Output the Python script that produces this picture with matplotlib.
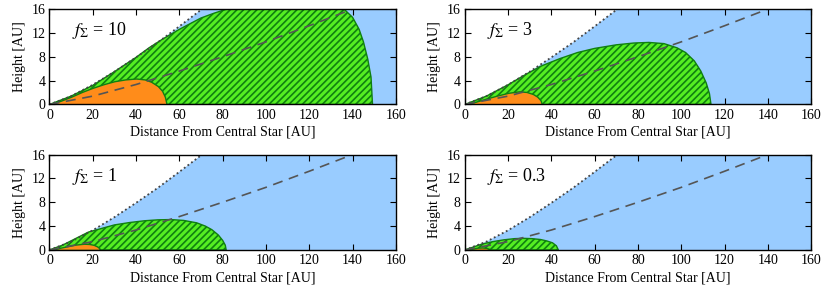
import numpy as np
import matplotlib
matplotlib.use("Agg")
import matplotlib.pyplot as plt

plt.rcParams['font.family'] = ['Liberation Serif', 'DejaVu Serif']
plt.rcParams['mathtext.fontset'] = 'stix'
plt.rcParams['hatch.linewidth'] = 1.2

# upper envelope (dotted) and scale height (dashed), same in every panel
dot_r = [0, 10, 20, 30, 40, 50, 60, 70.5]
dot_h = [0, 1.4, 3.3, 5.5, 7.9, 10.4, 13.1, 16.0]
dash_r = [0, 20, 40, 60, 80, 100, 120, 140]
dash_h = [0, 1.4, 3.35, 5.6, 8.0, 10.5, 13.2, 16.0]

labels = ['10', '3', '1', '0.3']

# green (hatched) regions
green_r = [
    [0, 10, 20, 30, 40, 46, 52, 60, 70, 76, 82, 136, 140, 143, 145, 147, 148.5, 149.2],
    [0, 10, 20, 27, 35, 44, 52, 60, 70, 78, 85, 92, 98, 102, 106, 109, 111.5, 113, 113.7],
    [0, 6, 12, 18, 24, 30, 37, 44, 50, 56, 62, 68, 72, 75, 78, 80, 81.2, 81.6],
    [0, 4, 8, 13, 18, 23, 27, 31, 35, 38, 40.5, 42.3, 43.2],
]
green_h = [
    [0, 1.4, 3.2, 5.5, 7.9, 9.5, 10.9, 12.6, 14.5, 15.3, 16.0, 16.0, 14.6, 12.6, 10.5, 7.6, 4.6, 0],
    [0, 1.4, 3.3, 4.8, 6.4, 7.7, 8.7, 9.4, 10.0, 10.3, 10.4, 10.2, 9.5, 8.7, 7.3, 5.6, 3.6, 1.8, 0],
    [0, 0.8, 1.9, 3.0, 3.6, 4.2, 4.6, 4.9, 5.05, 5.1, 4.95, 4.55, 4.0, 3.4, 2.5, 1.6, 0.8, 0],
    [0, 0.5, 1.0, 1.4, 1.7, 1.9, 1.95, 1.9, 1.75, 1.5, 1.2, 0.7, 0],
]

# orange regions
orange_r = [
    [0, 5, 10, 15, 20, 25, 30, 35, 40, 44, 47, 50, 52, 53.3, 54.1],
    [0, 5, 10, 15, 20, 25, 28.5, 31.5, 33.5, 35, 35.6],
    [0, 4, 8, 12, 16, 18.5, 20.5, 22, 23, 23.4],
    [0, 3, 6, 8, 10, 11, 11.8],
]
orange_h = [
    [0, 0.6, 1.3, 2.1, 2.8, 3.4, 3.9, 4.2, 4.35, 4.2, 3.8, 3.1, 2.3, 1.3, 0],
    [0, 0.45, 1.0, 1.5, 1.95, 2.2, 2.1, 1.75, 1.3, 0.7, 0],
    [0, 0.3, 0.6, 0.9, 1.05, 1.0, 0.85, 0.6, 0.3, 0],
    [0, 0.22, 0.38, 0.42, 0.35, 0.22, 0],
]

blue = '#99CCFF'
green = '#55EE22'
dkgreen = '#108010'
orange = '#FF8C1A'

fig = plt.figure(figsize=(8.3, 2.91), dpi=100)
lefts = [0.0596, 0.560, 0.0596, 0.560]
bottoms = [0.641, 0.641, 0.141, 0.141]

for i in range(4):
    ax = fig.add_axes([lefts[i], bottoms[i], 0.4174, 0.328])
    ax.fill(np.r_[dot_r, 160, 160], np.r_[dot_h, 16, 0], color=blue, lw=0, zorder=1)
    ax.fill_between(green_r[i], 0, green_h[i], facecolor=green, edgecolor=dkgreen,
                    hatch='/////', lw=1.0, zorder=2)
    ax.fill_between(orange_r[i], 0, orange_h[i], facecolor=orange, edgecolor=dkgreen,
                    lw=1.0, zorder=3)
    ax.plot(dot_r, dot_h, color='#444444', ls=(0, (1.0, 1.5)), lw=1.3, zorder=4)
    ax.plot(dash_r, dash_h, color='#555555', ls=(0, (6, 4)), lw=1.2, zorder=4)
    ax.set_xlim(0, 160)
    ax.set_ylim(0, 16)
    ax.set_xticks(np.arange(0, 161, 20))
    ax.set_yticks(np.arange(0, 17, 4))
    ax.tick_params(direction='in', top=True, right=True, length=4, labelsize=10, pad=3)
    for s in ax.spines.values():
        s.set_linewidth(1.0)
        s.set_zorder(5)
    ax.set_xlabel('Distance From Central Star [AU]', fontsize=10, labelpad=3)
    ax.set_ylabel('Height [AU]', fontsize=10, labelpad=4)
    ax.text(0.065, 0.77, r'$f_\Sigma$ = ' + labels[i], transform=ax.transAxes,
            fontsize=13, va='center', ha='left', zorder=6)

fig.savefig('out.png', dpi=100)
